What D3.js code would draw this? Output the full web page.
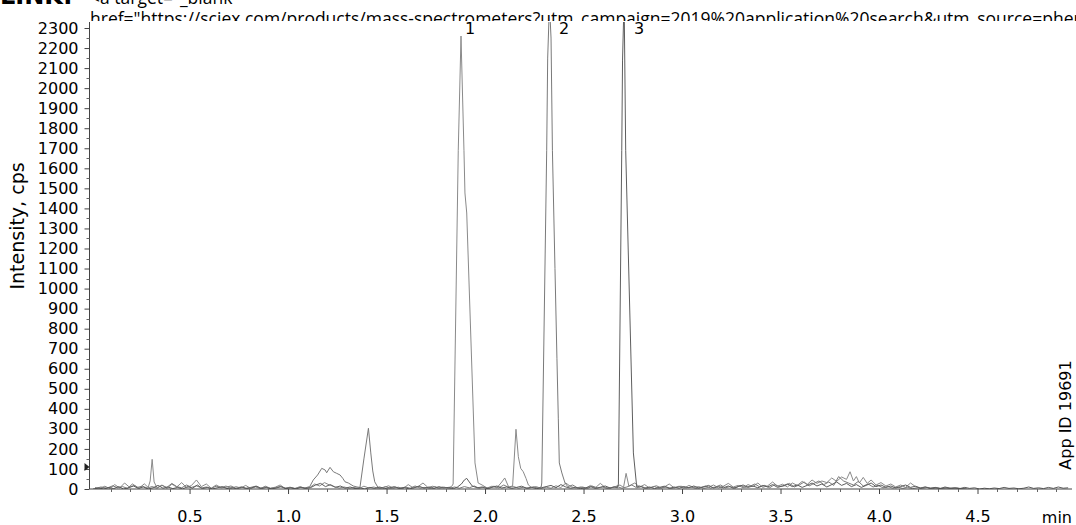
<!DOCTYPE html>
<html lang="en">
<head>
  <meta charset="UTF-8">
  <title>XIC chromatogram</title>
  <style>
    body { margin: 0; background: #fff; }
    svg { display: block; }
  </style>
</head>
<body>
  <svg id="svg" width="1076" height="525"></svg>

  <script src="https://d3js.org/d3.v7.min.js"></script>
  <script>
    // intensity (cps) vs retention time (min)
    const traceA = [
      [0.02,8],[0.045,3],[0.07,14],[0.095,2],[0.12,22],[0.145,5],[0.17,30],[0.195,9],[0.22,18],[0.245,4],
      [0.27,26],[0.29,8],[0.3,40],[0.31,148],[0.32,35],[0.335,6],[0.36,20],[0.385,3],[0.41,24],[0.435,10],
      [0.46,32],[0.485,6],[0.51,18],[0.535,45],[0.56,12],[0.585,25],[0.61,4],[0.635,20],[0.66,7],[0.685,15],
      [0.71,2],[0.735,12],[0.76,5],[0.785,18],[0.81,3],[0.835,10],[0.86,2],[0.885,14],[0.91,4],[0.935,9],
      [0.96,20],[0.985,3],[1.01,8],[1.035,2],[1.06,12],[1.085,4],[1.11,7],[1.135,25],[1.16,15],[1.185,32],
      [1.21,20],[1.235,12],[1.26,5],[1.285,10],[1.31,3],[1.335,8],[1.36,2],[1.385,14],[1.41,5],[1.435,10],
      [1.46,3],[1.485,7],[1.51,16],[1.535,4],[1.56,9],[1.585,2],[1.61,22],[1.635,6],[1.66,12],[1.685,30],
      [1.71,8],[1.735,14],[1.76,4],[1.785,10],[1.81,6],[1.83,12],[1.838,25],[1.864,1690],[1.878,2260],[1.893,1690],
      [1.898,1477],[1.907,1377],[1.949,130],[1.965,30],[1.985,20],[2.01,5],[2.035,14],[2.06,6],[2.085,35],[2.1,55],
      [2.12,10],[2.14,15],[2.157,298],[2.169,161],[2.181,103],[2.194,86],[2.208,53],[2.22,20],[2.235,8],[2.26,12],
      [2.285,3],[2.31,9],[2.335,4],[2.36,16],[2.385,7],[2.41,30],[2.435,12],[2.46,5],[2.485,10],[2.51,3],
      [2.535,18],[2.56,6],[2.585,28],[2.61,8],[2.635,4],[2.66,12],[2.685,20],[2.703,8],[2.716,78],[2.73,15],
      [2.76,30],[2.785,10],[2.81,22],[2.835,5],[2.86,12],[2.885,3],[2.91,10],[2.935,25],[2.96,6],[2.985,14],
      [3.01,4],[3.035,18],[3.06,8],[3.085,12],[3.11,3],[3.135,9],[3.16,20],[3.185,6],[3.21,14],[3.235,28],
      [3.26,10],[3.285,18],[3.31,6],[3.335,22],[3.36,12],[3.385,30],[3.41,8],[3.435,16],[3.46,35],[3.485,14],
      [3.51,24],[3.535,10],[3.56,30],[3.585,18],[3.61,38],[3.635,22],[3.66,45],[3.685,28],[3.71,40],[3.735,32],
      [3.76,55],[3.785,38],[3.81,60],[3.835,48],[3.853,86],[3.87,40],[3.885,62],[3.9,30],[3.92,58],[3.94,28],
      [3.96,45],[3.985,20],[4.01,32],[4.035,15],[4.06,25],[4.085,10],[4.11,20],[4.135,8],[4.16,30],[4.185,12],
      [4.21,6],[4.235,10],[4.26,4],[4.285,8],[4.31,3],[4.335,6],[4.36,2],[4.385,5],[4.41,2],[4.435,4]
    ]

    const traceB = [
      [0.02,2],[0.05,10],[0.08,4],[0.11,16],[0.135,6],[0.16,12],[0.185,3],[0.21,25],[0.235,8],[0.26,14],
      [0.285,5],[0.31,12],[0.335,4],[0.36,18],[0.385,8],[0.41,28],[0.435,12],[0.46,6],[0.485,20],[0.51,8],
      [0.535,16],[0.56,5],[0.585,10],[0.61,3],[0.635,14],[0.66,6],[0.685,9],[0.71,15],[0.735,4],[0.76,10],
      [0.785,3],[0.81,8],[0.835,14],[0.86,5],[0.885,10],[0.91,3],[0.935,7],[0.96,12],[0.985,4],[1.01,9],
      [1.035,3],[1.06,8],[1.085,5],[1.11,12],[1.128,45],[1.15,70],[1.171,103],[1.188,95],[1.196,81],[1.213,108],
      [1.23,86],[1.247,78],[1.264,70],[1.278,53],[1.289,36],[1.306,30],[1.331,15],[1.35,10],[1.365,8],[1.385,150],
      [1.408,303],[1.42,180],[1.43,90],[1.44,36],[1.455,10],[1.47,4],[1.495,12],[1.52,3],[1.545,8],[1.57,2],
      [1.595,10],[1.62,4],[1.645,15],[1.67,5],[1.695,8],[1.72,3],[1.745,12],[1.77,4],[1.795,8],[1.82,3],
      [1.845,10],[1.87,4],[1.895,12],[1.92,6],[1.945,15],[1.97,4],[1.995,10],[2.02,3],[2.045,14],[2.07,6],
      [2.095,20],[2.12,8],[2.145,12],[2.17,4],[2.195,9],[2.22,3],[2.245,10],[2.27,5],[2.285,10],[2.288,30],
      [2.313,1690],[2.318,2150],[2.327,2420],[2.335,2250],[2.342,1690],[2.355,1100],[2.365,650],[2.372,350],[2.377,130],[2.39,80],
      [2.406,30],[2.42,12],[2.445,20],[2.47,5],[2.495,10],[2.52,3],[2.545,14],[2.57,6],[2.595,10],[2.62,3],
      [2.645,8],[2.67,12],[2.695,4],[2.72,10],[2.745,20],[2.77,6],[2.795,12],[2.82,3],[2.845,9],[2.87,16],
      [2.895,5],[2.92,10],[2.945,3],[2.97,8],[2.995,14],[3.02,5],[3.045,10],[3.07,3],[3.095,8],[3.12,15],
      [3.145,5],[3.17,10],[3.195,20],[3.22,6],[3.245,12],[3.27,4],[3.295,18],[3.32,8],[3.345,14],[3.37,25],
      [3.395,10],[3.42,18],[3.445,6],[3.47,22],[3.495,12],[3.52,16],[3.545,28],[3.57,10],[3.595,20],[3.62,35],
      [3.645,15],[3.67,28],[3.695,40],[3.72,22],[3.745,35],[3.77,18],[3.795,62],[3.82,40],[3.845,30],[3.87,20],
      [3.895,38],[3.92,15],[3.945,25],[3.97,10],[3.995,18],[4.02,6],[4.045,12],[4.07,4],[4.095,10],[4.12,3],
      [4.145,8],[4.17,2],[4.195,6],[4.22,3],[4.245,8],[4.27,2],[4.295,5],[4.32,2],[4.345,6],[4.37,3],
      [4.395,5],[4.42,2],[4.445,4]
    ]

    const traceC = [
      [0.01,0],[0.04,5],[0.065,0],[0.09,8],[0.115,2],[0.14,12],[0.165,0],[0.19,6],[0.215,15],[0.24,3],
      [0.265,10],[0.29,0],[0.315,6],[0.34,18],[0.365,4],[0.39,10],[0.415,2],[0.44,8],[0.465,0],[0.49,12],
      [0.515,4],[0.54,20],[0.565,2],[0.59,8],[0.615,0],[0.64,6],[0.665,12],[0.69,2],[0.715,7],[0.74,0],
      [0.765,10],[0.79,3],[0.815,6],[0.84,14],[0.865,2],[0.89,8],[0.915,0],[0.94,5],[0.965,12],[0.99,2],
      [1.015,6],[1.04,0],[1.065,9],[1.09,3],[1.115,7],[1.14,20],[1.165,28],[1.19,12],[1.215,22],[1.24,8],
      [1.265,15],[1.29,4],[1.315,10],[1.34,2],[1.365,6],[1.39,0],[1.415,8],[1.44,3],[1.465,10],[1.49,2],
      [1.515,6],[1.54,12],[1.565,3],[1.59,8],[1.615,0],[1.64,6],[1.665,14],[1.69,4],[1.715,9],[1.74,2],
      [1.765,12],[1.79,5],[1.815,8],[1.84,2],[1.86,10],[1.88,25],[1.895,45],[1.907,53],[1.92,35],[1.935,15],
      [1.96,6],[1.985,10],[2.01,2],[2.035,8],[2.06,15],[2.085,5],[2.11,10],[2.135,3],[2.16,8],[2.185,14],
      [2.21,4],[2.235,9],[2.26,2],[2.285,6],[2.31,12],[2.335,18],[2.36,6],[2.385,22],[2.41,10],[2.435,4],
      [2.46,8],[2.485,2],[2.51,6],[2.535,12],[2.56,3],[2.585,8],[2.61,15],[2.635,5],[2.655,10],[2.672,6],
      [2.677,25],[2.694,1690],[2.698,2140],[2.706,2450],[2.714,1690],[2.753,180],[2.77,10],[2.785,15],[2.81,4],[2.835,10],
      [2.86,2],[2.885,8],[2.91,14],[2.935,3],[2.96,10],[2.985,4],[3.01,12],[3.035,6],[3.06,15],[3.085,4],
      [3.11,10],[3.135,18],[3.16,5],[3.185,12],[3.21,6],[3.235,15],[3.26,4],[3.285,12],[3.31,20],[3.335,8],
      [3.36,15],[3.385,6],[3.41,18],[3.435,10],[3.46,22],[3.485,8],[3.51,15],[3.535,25],[3.56,12],[3.585,20],
      [3.61,8],[3.635,18],[3.66,30],[3.685,15],[3.71,25],[3.735,10],[3.76,22],[3.785,35],[3.81,18],[3.835,28],
      [3.86,12],[3.885,22],[3.91,8],[3.935,18],[3.96,30],[3.985,12],[4.01,20],[4.035,8],[4.06,15],[4.085,5],
      [4.11,12],[4.135,20],[4.16,8],[4.185,14],[4.21,4],[4.235,10],[4.26,3],[4.285,8],[4.31,2],[4.335,10],
      [4.36,4],[4.385,6],[4.41,2],[4.435,8],[4.46,3],[4.485,6],[4.51,0],[4.535,4],[4.56,1],[4.585,5],
      [4.61,2],[4.635,8],[4.66,3],[4.685,5],[4.71,1],[4.735,4],[4.76,10],[4.785,3],[4.81,6],[4.835,2],
      [4.86,8],[4.885,3],[4.91,10],[4.935,4],[4.96,6]
    ]

    const traces = [traceA, traceB, traceC]
    const traceColors = ['#8a8a8a', '#7a7a7a', '#5e5e5e']

    const yTicks = d3.range(0, 2301, 100)
    const yMinorTicks = d3.range(50, 2301, 100)
    const xTicks = [0.5, 1.0, 1.5, 2.0, 2.5, 3.0, 3.5, 4.0, 4.5]
    const xMinorTicks = [0.1, 0.2, 0.3, 0.4, 0.6, 0.7, 0.8, 0.9, 1.1, 1.2, 1.3, 1.4, 1.6, 1.7, 1.8, 1.9,
      2.1, 2.2, 2.3, 2.4, 2.6, 2.7, 2.8, 2.9, 3.1, 3.2, 3.3, 3.4, 3.6, 3.7, 3.8, 3.9, 4.1, 4.2, 4.3, 4.4, 4.6, 4.7, 4.8, 4.9]

    const peakLabels = [
      { t: 1.924, label: '1' },
      { t: 2.401, label: '2' },
      { t: 2.782, label: '3' }
    ]
    const markerLevel = 110

    const tickFont = '"DejaVu Sans", Verdana, sans-serif'
    const svg = d3.select('#svg')

    // scrap of page text sitting above the plot
    svg.append('text')
      .attr('x', 0).attr('y', 4)
      .style('font-family', tickFont)
      .style('font-weight', 'bold')
      .style('font-size', '24px')
      .text('LINK:')
    svg.append('text')
      .attr('x', 90).attr('y', 4)
      .style('font-family', '"Open Sans", sans-serif')
      .style('font-size', '17.5px')
      .text('<a target="_blank"')
    svg.append('text')
      .attr('x', 90).attr('y', 25)
      .style('font-family', '"Open Sans", sans-serif')
      .style('font-size', '17.5px')
      .text('href="https://sciex.com/products/mass-spectrometers?utm_campaign=2019%20application%20search&utm_source=phenomenex')

    // plot background hides the lower part of that line
    svg.append('rect')
      .attr('x', 0).attr('y', 21)
      .attr('width', 1076).attr('height', 504)
      .attr('fill', '#fff')

    const xScale = d3.scaleLinear()
      .domain([-0.008, 5.0])
      .range([89.5, 1076])

    const yScale = d3.scaleLinear()
      .domain([0, 2330])
      .range([489, 22])

    svg.append('clipPath').attr('id', 'plot-clip')
      .append('rect')
      .attr('x', xScale.range()[0]).attr('y', yScale.range()[1])
      .attr('width', xScale.range()[1] - xScale.range()[0])
      .attr('height', yScale.range()[0] - yScale.range()[1])

    const line = d3.line()
      .x(d => xScale(d[0]))
      .y(d => yScale(d[1]))

    svg.append('g')
      .attr('clip-path', 'url(#plot-clip)')
      .selectAll('path')
      .data(traces)
      .enter()
      .append('path')
      .attr('d', line)
      .attr('fill', 'none')
      .attr('stroke', (d, i) => traceColors[i])
      .attr('stroke-width', 1)
      .attr('stroke-linejoin', 'round')

    // y axis
    const yAxis = svg.append('g')
      .attr('transform', `translate(${xScale.range()[0]},0)`)
      .call(d3.axisLeft(yScale).tickValues(yTicks).tickSize(5).tickPadding(6).tickFormat(d3.format('d')))
    yAxis.select('.domain').attr('d', `M0,${yScale.range()[1]}V${yScale.range()[0]}`)
    yAxis.selectAll('text')
      .style('font-family', tickFont)
      .style('font-size', '16px')
      .attr('fill', '#000')
    yAxis.selectAll('line, path').attr('stroke', '#444')

    svg.append('g')
      .attr('transform', `translate(${xScale.range()[0]},0)`)
      .selectAll('line')
      .data(yMinorTicks)
      .enter()
      .append('line')
      .attr('x1', -3).attr('x2', 0)
      .attr('y1', d => Math.round(yScale(d)) + 0.5)
      .attr('y2', d => Math.round(yScale(d)) + 0.5)
      .attr('stroke', '#666')

    // x axis
    const xAxis = svg.append('g')
      .attr('transform', `translate(0,${yScale.range()[0]})`)
      .call(d3.axisBottom(xScale).tickValues(xTicks).tickSize(5).tickPadding(17).tickFormat(d3.format('.1f')))
    xAxis.select('.domain').attr('d', `M${xScale.range()[0]},0H${xScale.range()[1] - 4}`)
    xAxis.selectAll('text')
      .style('font-family', tickFont)
      .style('font-size', '16px')
      .attr('fill', '#000')
    xAxis.selectAll('line, path').attr('stroke', '#444')

    svg.append('g')
      .attr('transform', `translate(0,${yScale.range()[0]})`)
      .selectAll('line')
      .data(xMinorTicks)
      .enter()
      .append('line')
      .attr('x1', d => Math.round(xScale(d)) + 0.5)
      .attr('x2', d => Math.round(xScale(d)) + 0.5)
      .attr('y1', 0).attr('y2', 3)
      .attr('stroke', '#666')

    svg.append('text')
      .attr('x', 1072).attr('y', 523)
      .attr('text-anchor', 'end')
      .style('font-family', tickFont)
      .style('font-size', '16px')
      .text('min')

    svg.append('text')
      .attr('transform', 'translate(24,226) rotate(-90)')
      .attr('text-anchor', 'middle')
      .style('font-family', tickFont)
      .style('font-size', '19px')
      .text('Intensity, cps')

    svg.append('text')
      .attr('transform', 'translate(1071,415) rotate(-90)')
      .attr('text-anchor', 'middle')
      .style('font-family', tickFont)
      .style('font-size', '16px')
      .text('App ID 19691')

    // peak numbers
    svg.selectAll('.peak-label')
      .data(peakLabels)
      .enter()
      .append('text')
      .attr('class', 'peak-label')
      .attr('x', d => xScale(d.t))
      .attr('y', 34)
      .attr('text-anchor', 'middle')
      .style('font-family', tickFont)
      .style('font-size', '16px')
      .text(d => d.label)

    // little threshold marker on the y axis
    const my = yScale(markerLevel)
    svg.append('path')
      .attr('d', `M${xScale.range()[0] - 5},${my - 4}L${xScale.range()[0]},${my}L${xScale.range()[0] - 5},${my + 4}Z`)
      .attr('fill', '#222')
  </script>
</body>
</html>
